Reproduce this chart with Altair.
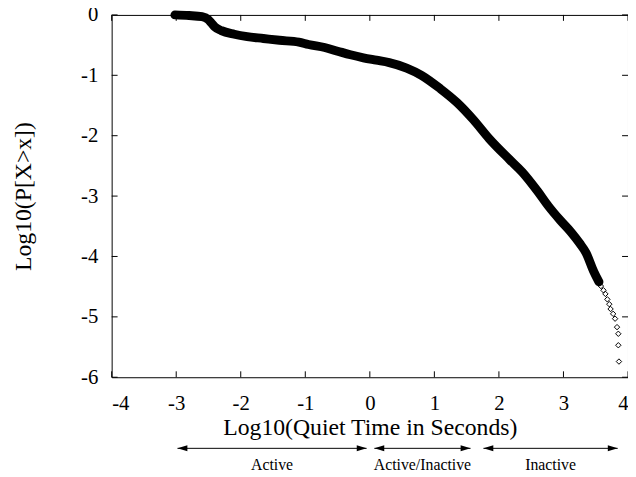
import altair as alt
import pandas as pd

# Main CCDF curve (dense region, drawn as thick line)
curve_x = [-3.02, -2.8, -2.6, -2.5, -2.45, -2.4, -2.3, -2.1, -1.9, -1.65, -1.4, -1.1, -0.95,
           -0.7, -0.5, -0.3, -0.1, 0.1, 0.3, 0.57, 0.8, 1.09, 1.35, 1.6, 1.85, 2.16, 2.36,
           2.6, 2.77, 2.95, 3.12, 3.25, 3.35, 3.47, 3.55]
curve_y = [0.0, -0.01, -0.03, -0.08, -0.14, -0.2, -0.26, -0.32, -0.36, -0.39, -0.42, -0.45, -0.49,
           -0.54, -0.6, -0.66, -0.71, -0.75, -0.79, -0.88, -1.0, -1.22, -1.45, -1.73, -2.05, -2.39, -2.6,
           -2.92, -3.17, -3.4, -3.6, -3.78, -3.94, -4.25, -4.42]

# Sparse tail points (open diamonds)
tail_x = [3.40, 3.45, 3.50, 3.55, 3.58, 3.62, 3.65, 3.68, 3.71, 3.73, 3.77, 3.80, 3.83, 3.85, 3.85, 3.86]
tail_y = [-4.10, -4.20, -4.30, -4.40, -4.49, -4.56, -4.62, -4.71, -4.79, -4.87, -4.95, -5.03, -5.17, -5.28, -5.47, -5.74]

x_ticks = [-4, -3, -2, -1, 0, 1, 2, 3, 4]
y_ticks = [-6, -5, -4, -3, -2, -1, 0]

# Regime annotations below the x axis
reg_labels = ["Active", "Active/Inactive", "Inactive"]
reg_start = [-2.98, 0.07, 1.76]
reg_end = [-0.05, 1.56, 3.84]

FONT = "Liberation Serif"
W, H = 523, 367

curve = pd.DataFrame({"x": curve_x, "y": curve_y})
tail = pd.DataFrame({"x": tail_x, "y": tail_y})
xt = pd.DataFrame({"v": x_ticks})
yt = pd.DataFrame({"v": y_ticks})
reg = pd.DataFrame({"label": reg_labels, "s": reg_start, "e": reg_end})
reg["m"] = (reg["s"] + reg["e"]) / 2

xs = alt.Scale(domain=[-4, 4], nice=False, zero=False)
ys = alt.Scale(domain=[-6, 0], nice=False, zero=False)

xaxis = alt.Axis(values=x_ticks, ticks=False, domain=False, grid=False,
                 labelExpr="datum.value + ''", labelPadding=16, labelFontSize=21,
                 labelFont=FONT, titleFont=FONT, labelColor="black", titleColor="black",
                 titleFontWeight="normal",
                 title="Log10(Quiet Time in Seconds)", titleFontSize=24, titlePadding=2)
yaxis = alt.Axis(values=y_ticks, ticks=False, domain=False, grid=False,
                 labelExpr="datum.value + ''", labelPadding=14, labelFontSize=21,
                 labelFont=FONT, titleFont=FONT, labelColor="black", titleColor="black",
                 titleFontWeight="normal",
                 title="Log10(P[X>x])", titleFontSize=24, titlePadding=46)

line = alt.Chart(curve).mark_line(color="black", strokeWidth=9, strokeCap="round",
                                  interpolate="monotone").encode(
    x=alt.X("x:Q", scale=xs, axis=xaxis),
    y=alt.Y("y:Q", scale=ys, axis=yaxis),
)

pts = alt.Chart(tail).mark_point(shape="diamond", filled=False, color="black",
                                 size=30, strokeWidth=1, opacity=1).encode(
    x=alt.X("x:Q", scale=xs), y=alt.Y("y:Q", scale=ys))

# inward ticks on all four sides
tb = alt.Chart(xt).mark_rule(color="black", strokeWidth=1).encode(
    x=alt.X("v:Q", scale=xs), y=alt.value(H), y2=alt.value(H - 6))
tt = alt.Chart(xt).mark_rule(color="black", strokeWidth=1).encode(
    x=alt.X("v:Q", scale=xs), y=alt.value(0), y2=alt.value(6))
tl = alt.Chart(yt).mark_rule(color="black", strokeWidth=1).encode(
    y=alt.Y("v:Q", scale=ys), x=alt.value(0), x2=alt.value(6))
tr = alt.Chart(yt).mark_rule(color="black", strokeWidth=1).encode(
    y=alt.Y("v:Q", scale=ys), x=alt.value(W), x2=alt.value(W - 6))

AY = 439
arr = alt.Chart(reg).mark_rule(color="black", strokeWidth=1).encode(
    x=alt.X("s:Q", scale=xs), x2="e:Q", y=alt.value(AY))
head_l = alt.Chart(reg).mark_point(shape="M0,0L2,-0.6L2,0.6Z", filled=True, color="black",
                                   size=100, opacity=1).encode(
    x=alt.X("s:Q", scale=xs), y=alt.value(AY))
head_r = alt.Chart(reg).mark_point(shape="M0,0L-2,-0.6L-2,0.6Z", filled=True, color="black",
                                   size=100, opacity=1).encode(
    x=alt.X("e:Q", scale=xs), y=alt.value(AY))
txt = alt.Chart(reg).mark_text(font=FONT, fontSize=16, color="black", baseline="alphabetic").encode(
    x=alt.X("m:Q", scale=xs), y=alt.value(461), text="label:N")

chart = alt.layer(line, pts, tb, tt, tl, tr, arr, head_l, head_r, txt).properties(
    width=W, height=H,
    background="white",
    autosize=alt.AutoSizeParams(type="none"),
    padding={"left": 105, "top": 4, "right": 0, "bottom": 96},
).configure_view(stroke="black", strokeWidth=1)

chart.save("out.html", embed_options={"renderer": "svg", "actions": False})
